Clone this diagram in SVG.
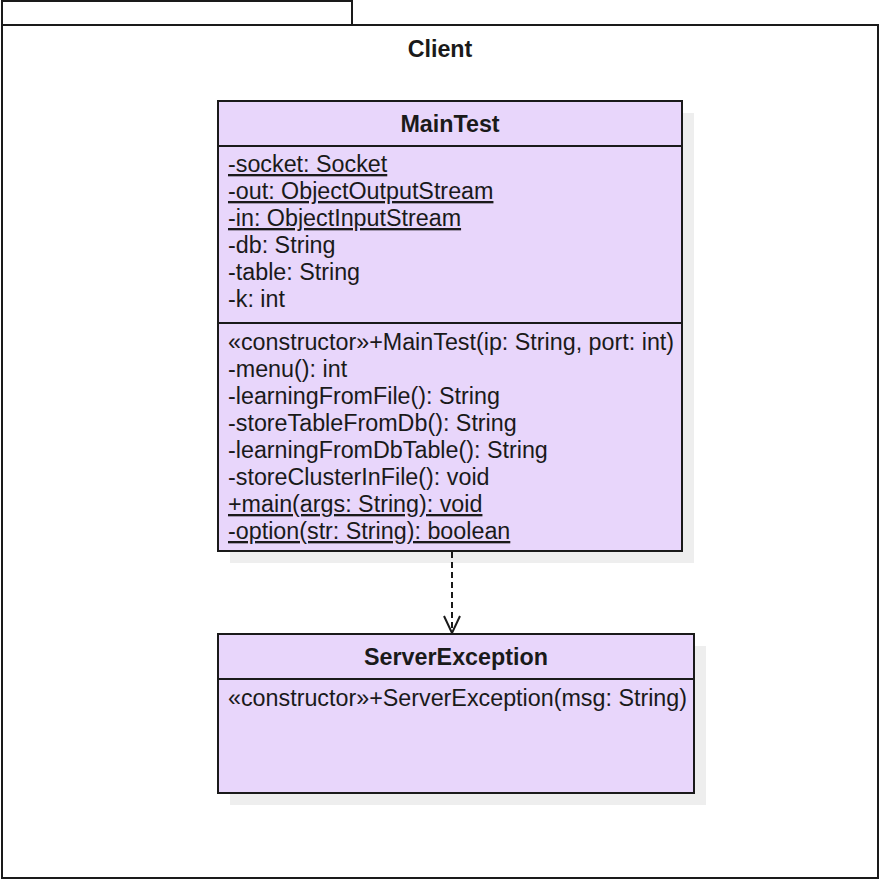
<svg xmlns="http://www.w3.org/2000/svg" width="882" height="881" viewBox="0 0 882 881">
<style>
.frame{fill:#fff;stroke:#1a1a1a;stroke-width:2}
.box{fill:#e8d6fb;stroke:#1a1a1a;stroke-width:2}
.shadow{fill:#eeeeee}
.sep{stroke:#1a1a1a;stroke-width:2}
.t{font-family:"Liberation Sans",Arial,sans-serif;font-size:23.3px;fill:#1a1a1a}
.b{font-family:"Liberation Sans",Arial,sans-serif;font-size:23.3px;font-weight:bold;fill:#1a1a1a}
.u{text-decoration:underline;text-decoration-thickness:2px;text-underline-offset:4px}
.conn{fill:none;stroke:#1a1a1a;stroke-width:2}
</style>
<defs>
<marker id="open" markerWidth="20" markerHeight="18" refX="18" refY="9" orient="auto" markerUnits="userSpaceOnUse" viewBox="0 0 20 18">
<path d="M1,1 L18,9 L1,17" fill="none" stroke="#1a1a1a" stroke-width="2"/>
</marker>
</defs>
<g id="package-client">
<rect class="frame" x="2" y="1" width="350" height="24"/>
<rect class="frame" x="2" y="25" width="876" height="853"/>
<text class="b" x="440" y="57" text-anchor="middle">Client</text>
</g>
<g id="MainTest">
<rect class="shadow" x="230" y="113" width="464" height="450"/>
<rect class="box" x="218" y="101" width="464" height="450"/>
<line class="sep" x1="218" y1="146" x2="682" y2="146"/>
<line class="sep" x1="218" y1="323" x2="682" y2="323"/>
<text class="b" x="450" y="132" text-anchor="middle">MainTest</text>
<text class="t u" x="228" y="172">-socket: Socket</text>
<text class="t u" x="228" y="199">-out: ObjectOutputStream</text>
<text class="t u" x="228" y="226">-in: ObjectInputStream</text>
<text class="t" x="228" y="253">-db: String</text>
<text class="t" x="228" y="280">-table: String</text>
<text class="t" x="228" y="307">-k: int</text>
<text class="t" x="228" y="350">«constructor»+MainTest(ip: String, port: int)</text>
<text class="t" x="228" y="377">-menu(): int</text>
<text class="t" x="228" y="404">-learningFromFile(): String</text>
<text class="t" x="228" y="431">-storeTableFromDb(): String</text>
<text class="t" x="228" y="458">-learningFromDbTable(): String</text>
<text class="t" x="228" y="485">-storeClusterInFile(): void</text>
<text class="t u" x="228" y="512">+main(args: String): void</text>
<text class="t u" x="228" y="539">-option(str: String): boolean</text>
</g>
<g id="ServerException">
<rect class="shadow" x="230" y="646" width="476" height="159"/>
<rect class="box" x="218" y="634" width="476" height="159"/>
<line class="sep" x1="218" y1="679" x2="694" y2="679"/>
<text class="b" x="456" y="665" text-anchor="middle">ServerException</text>
<text class="t" x="228" y="706">«constructor»+ServerException(msg: String)</text>
</g>
<g id="connectors">
<path class="conn" d="M452,552 L452,633" stroke-dasharray="6,4" marker-end="url(#open)"/>
</g>
</svg>
